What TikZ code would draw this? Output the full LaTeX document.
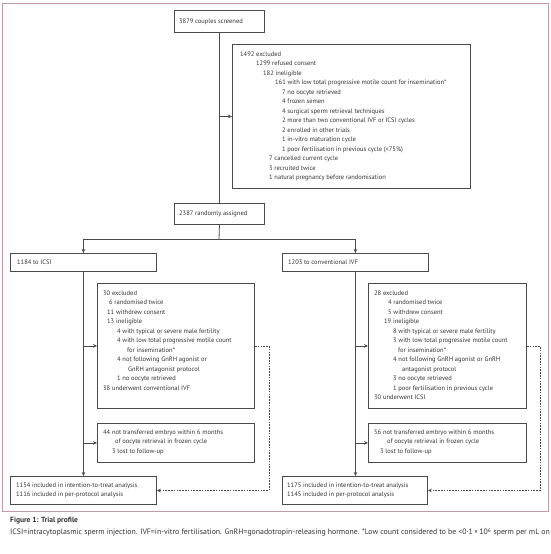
\documentclass[tikz,border=0pt]{standalone}
\usepackage{fontspec}
\setmainfont{PT Sans}
\usetikzlibrary{arrows.meta}
\definecolor{linec}{HTML}{4A4A4A}
\definecolor{textc}{HTML}{333333}
\definecolor{framec}{HTML}{C49AA4}
\newcommand\ind[1]{\hspace*{#1pt}}
\tikzset{
  box/.style={draw=linec, line width=0.9pt, anchor=north west, inner sep=0pt},
  txt/.style={anchor=north west, inner sep=0pt, align=left, text=textc,
    font=\fontsize{6.5}{9.5}\selectfont},
  conn/.style={draw=linec, line width=0.8pt},
  arr/.style={conn, -{Stealth[length=4pt,width=3.6pt]}},
  dsh/.style={dash pattern=on 1.6pt off 1.2pt}
}
\newcommand\boxat[5]{\node[box, minimum width=#3pt-#1pt, minimum height=#4pt-#2pt] (#5) at (#1,#2) {};}
\begin{document}
\begin{tikzpicture}[x=1pt,y=-1pt]
\useasboundingbox[fill=white] (0,0) rectangle (550,554);
\draw[framec, line width=0.8pt] (2,3) rectangle (548,511);
% boxes
\boxat{174}{10}{264}{32}{bscr}
\boxat{232}{44}{470}{188}{bexc}
\boxat{174}{203}{264}{224}{brand}
\boxat{10}{253}{156}{271}{bicsi}
\boxat{282}{253}{428}{271}{bivf}
\boxat{97}{283}{254}{408}{bexL}
\boxat{368}{283}{526}{408}{bexR}
\boxat{97}{423}{254}{462}{bntL}
\boxat{368}{423}{526}{462}{bntR}
\boxat{10}{476}{156}{504}{bfL}
\boxat{282}{476}{427}{504}{bfR}
% texts
\node[txt] (tscr) at (179,18.5) {3879 couples screened};
\node[txt] (texc) at (240,51.5) {1492 excluded\\
\ind{16}1299 refused consent\\
\ind{23}182 ineligible\\
\ind{35}161 with low total progressive motile count for insemination*\\
\ind{42}7 no oocyte retrieved\\
\ind{42}4 frozen semen\\
\ind{42}4 surgical sperm retrieval techniques\\
\ind{42}2 more than two conventional IVF or ICSI cycles\\
\ind{42}2 enrolled in other trials\\
\ind{42}1 in-vitro maturation cycle\\
\ind{42}1 poor fertilisation in previous cycle (<75\%)\\
\ind{29}7 cancelled current cycle\\
\ind{29}3 recruited twice\\
\ind{29}1 natural pregnancy before randomisation};
\node[txt] (trand) at (179,211) {2387 randomly assigned};
\node[txt] (ticsi) at (17,259.5) {1184 to ICSI};
\node[txt] (tivf) at (288,259.5) {1203 to conventional IVF};
\node[txt] (texL) at (103,290.5) {30 excluded\\
\ind{6}6 randomised twice\\
\ind{4}11 withdrew consent\\
\ind{4}13 ineligible\\
\ind{14}4 with typical or severe male fertility\\
\ind{14}4 with low total progressive motile count\\
\ind{24}for insemination*\\
\ind{14}4 not following GnRH agonist or\\
\ind{25}GnRH antagonist protocol\\
\ind{14}1 no oocyte retrieved\\
38 underwent conventional IVF};
\node[txt] (texR) at (374,290.5) {28 excluded\\
\ind{14}4 randomised twice\\
\ind{14}5 withdrew consent\\
\ind{10}19 ineligible\\
\ind{19}8 with typical or severe male fertility\\
\ind{19}3 with low total progressive motile count\\
\ind{24}for insemination*\\
\ind{19}4 not following GnRH agonist or GnRH\\
\ind{28}antagonist protocol\\
\ind{19}3 no oocyte retrieved\\
\ind{19}1 poor fertilisation in previous cycle\\
30 underwent ICSI};
\node[txt] (tntL) at (103,429.5) {44 not transferred embryo within 6 months\\
\ind{12}of oocyte retrieval in frozen cycle\\
\ind{9}3 lost to follow-up};
\node[txt] (tntR) at (374,429.5) {56 not transferred embryo within 6 months\\
\ind{13}of oocyte retrieval in frozen cycle\\
\ind{6}3 lost to follow-up};
\node[txt] (tfL) at (16,482.5) {1154 included in intention-to-treat analysis\\
1116 included in per-protocol analysis};
\node[txt] (tfR) at (287,482.5) {1175 included in intention-to-treat analysis\\
1145 included in per-protocol analysis};
% caption
\node[txt, font=\fontsize{7.5}{9}\selectfont\bfseries] (cap1) at (10,517) {Figure 1: Trial profile};
\node[txt, font=\fontsize{7.8}{10}\selectfont] (cap2) at (10,528) {ICSI=intracytoplasmic sperm injection. IVF=in-vitro fertilisation. GnRH=gonadotropin-releasing hormone. *Low count considered to be <0·1\,×\,10\textsuperscript{6} sperm per mL on};
% connectors
\draw[conn] (bscr.south) -- (brand.north);
\draw[arr] (bscr.south |- bexc.west) -- (bexc.west);
\coordinate (split) at (219,239);
\draw[conn] (brand.south) -- (split);
\draw[arr] (split) -| (bicsi.north);
\draw[arr] (split) -| (bivf.north);
\draw[arr] (bicsi.south) -- (bfL.north);
\draw[arr] (bivf.south) -- (bivf.south |- bfR.north);
\draw[arr] (bicsi.south |- bexL.west) -- (bexL.west);
\draw[arr] (bicsi.south |- bntL.west) -- (bntL.west);
\draw[arr] (bivf.south |- bexR.west) -- (bexR.west);
\draw[arr] (bivf.south |- bntR.west) -- (bntR.west);
\draw[arr, dsh] (bexL.east) -- ++(14,0) |- (bfL.east);
\draw[arr, dsh] (bexR.east) -- ++(13,0) |- (bfR.east);
\end{tikzpicture}
\end{document}
